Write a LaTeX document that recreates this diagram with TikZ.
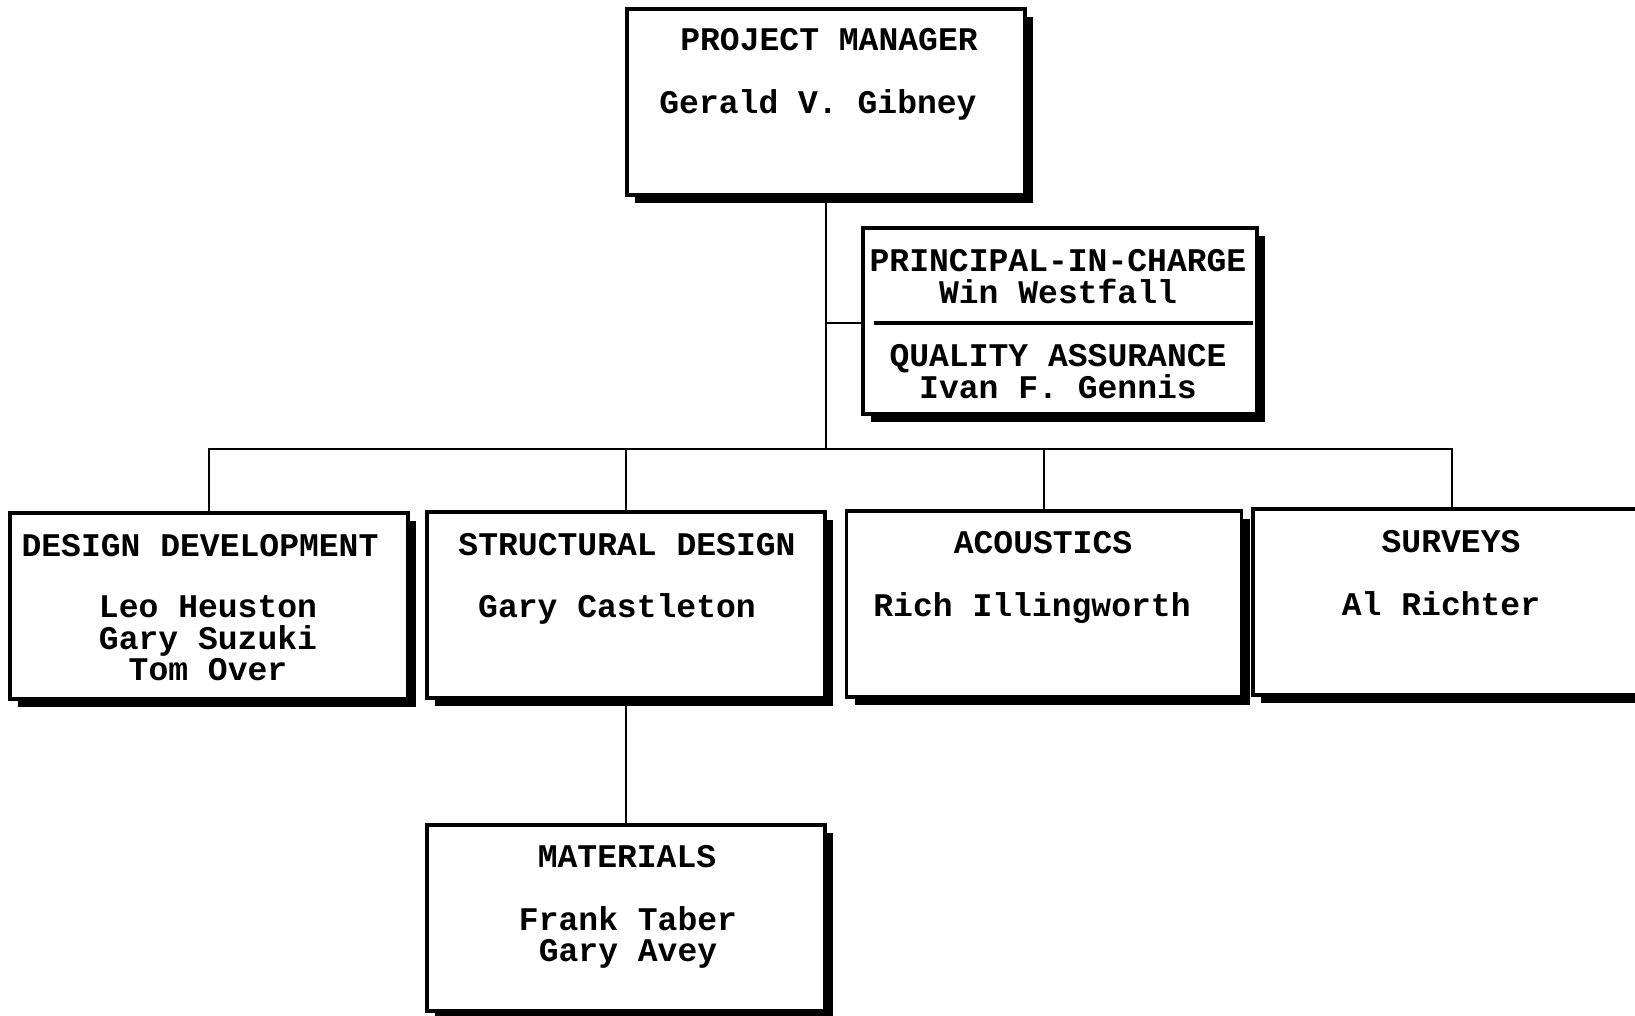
\documentclass[tikz,border=0pt]{standalone}
\usepackage{fontspec}
\setmonofont{Liberation Mono}
\usetikzlibrary{shadows}

\begin{document}
\begin{tikzpicture}[line join=miter,
    font=\ttfamily\bfseries\fontsize{9.4}{8.9}\selectfont,
    unit/.style={draw,line width=0.9pt,fill=white,inner sep=0pt,
      minimum width=3.98cm,minimum height=1.86cm,
      general shadow={fill=black,shadow xshift=0.08cm,shadow yshift=-0.08cm}},
    txt/.style={anchor=north,align=center,inner sep=0pt},
    link/.style={line width=0.7pt}]
  \useasboundingbox (0,0) rectangle (16.35,10.15);
  \clip (0,0) rectangle (16.35,10.15);

  % Boxes of the chart.
  \node[unit] (pm) at (8.26,9.13) {};
  \node[unit,minimum width=3.94cm] (pic) at (10.60,6.94) {};
  \node[unit] (dd) at (2.09,4.09) {};
  \node[unit] (sd) at (6.26,4.10) {};
  \node[unit,minimum width=3.95cm] (ac) at (10.44,4.11) {};
  \node[unit] (sv) at (14.52,4.13) {};
  \node[unit] (mat) at (6.26,0.97) {};

  % Lines of reporting.
  \coordinate (bus) at (8.26,5.66);
  \draw[link] (pm.south) -- (pm.south |- bus);
  \draw[link] ([yshift=-0.02cm]pic.west) -- ([yshift=-0.02cm]pic.west -| pm.south);
  \draw[link] (dd.north) |- (sv.north |- bus) -- (sv.north);
  \draw[link] (sd.north) -- (sd.north |- bus);
  \draw[link] (ac.north) -- (ac.north |- bus);
  \draw[link] (sd.south) -- (mat.north);
  \draw[line width=0.9pt] ([xshift=0.13cm,yshift=-0.02cm]pic.west)
    -- ([xshift=-0.06cm,yshift=-0.02cm]pic.east);

  % Titles and names.
  \node[txt] (pm-title) at (8.29,9.87) {PROJECT MANAGER};
  \node[txt] (pm-name) at (8.18,9.26) {Gerald V. Gibney};
  \node[txt] (pic-top) at (10.58,7.66) {PRINCIPAL-IN-CHARGE\\Win Westfall};
  \node[txt] (pic-bot) at (10.58,6.71) {QUALITY ASSURANCE\\Ivan F. Gennis};
  \node[txt] (dd-title) at (2.00,4.81) {DESIGN DEVELOPMENT};
  \node[txt] (dd-names) at (2.08,4.20) {Leo Heuston\\Gary Suzuki\\Tom Over};
  \node[txt] (sd-title) at (6.27,4.82) {STRUCTURAL DESIGN};
  \node[txt] (sd-name) at (6.17,4.22) {Gary Castleton};
  \node[txt] (ac-title) at (10.43,4.84) {ACOUSTICS};
  \node[txt] (ac-name) at (10.32,4.23) {Rich Illingworth};
  \node[txt] (sv-title) at (14.51,4.85) {SURVEYS};
  \node[txt] (sv-name) at (14.41,4.24) {Al Richter};
  \node[txt] (mat-title) at (6.27,1.70) {MATERIALS};
  \node[txt] (mat-names) at (6.28,1.09) {Frank Taber\\Gary Avey};
\end{tikzpicture}
\end{document}
